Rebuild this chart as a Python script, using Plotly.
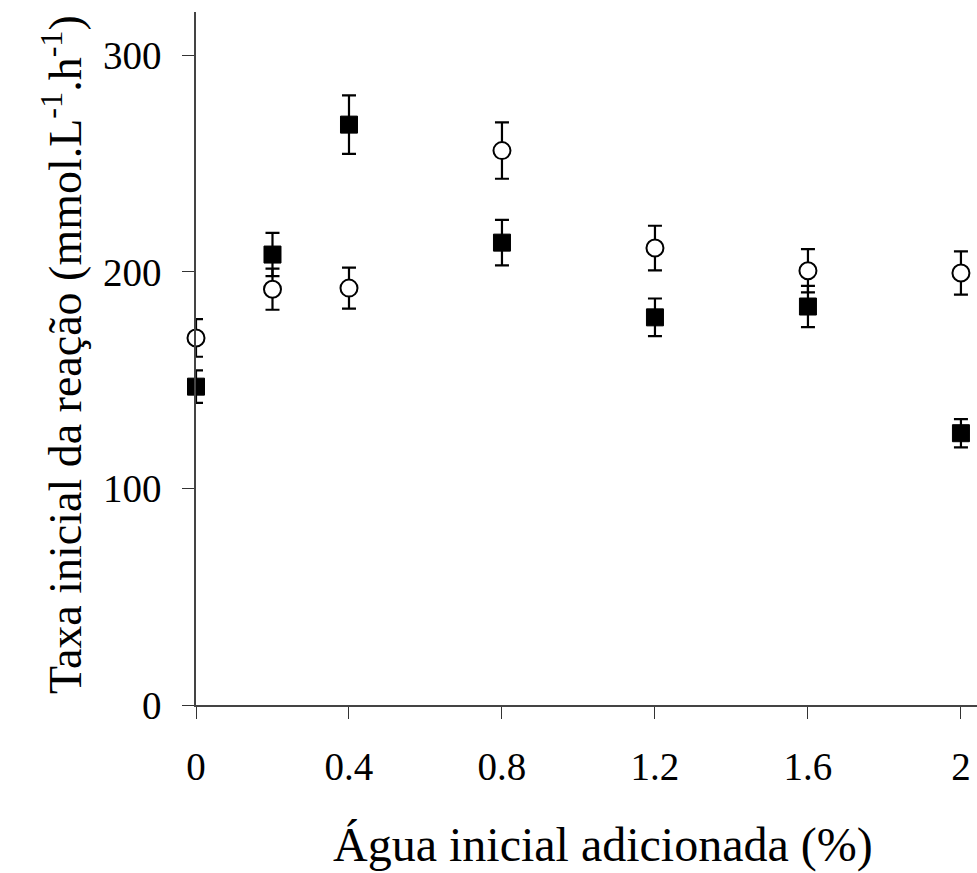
import plotly.graph_objects as go

x_vals = [0, 0.2, 0.4, 0.8, 1.2, 1.6, 2.0]
squares_y = [147, 208, 268, 213.5, 179, 184, 125.5]
squares_err = [7.5, 10, 13.5, 10.5, 8.7, 9.5, 6.5]
circles_y = [169.5, 192, 192.5, 256, 211, 200.5, 199.5]
circles_err = [8.7, 9.5, 9.5, 13, 10.3, 10, 10]

x_ticks = [0, 0.4, 0.8, 1.2, 1.6, 2]
x_tick_text = ["0", "0.4", "0.8", "1.2", "1.6", "2"]
y_ticks = [0, 100, 200, 300]

FONT = "Liberation Serif, Times New Roman, serif"

fig = go.Figure()
fig.add_trace(go.Scatter(
    x=x_vals, y=squares_y, mode="markers",
    marker=dict(symbol="square", size=17, color="black", line=dict(color="black", width=1)),
    error_y=dict(type="data", array=squares_err, visible=True, color="black", thickness=2.2, width=7),
    cliponaxis=False, showlegend=False,
))
fig.add_trace(go.Scatter(
    x=x_vals, y=circles_y, mode="markers",
    marker=dict(symbol="circle", size=17, color="white", line=dict(color="black", width=2)),
    error_y=dict(type="data", array=circles_err, visible=True, color="black", thickness=2.2, width=7),
    cliponaxis=False, showlegend=False,
))

fig.update_layout(
    width=977, height=873,
    margin=dict(l=196, r=0, t=12, b=168),
    plot_bgcolor="white", paper_bgcolor="white",
    font=dict(family=FONT, size=39, color="black"),
    xaxis=dict(
        range=[0, 2.042], tickmode="array", tickvals=x_ticks, ticktext=x_tick_text,
        showgrid=False, zeroline=False, showline=True, linecolor="#444", linewidth=1.5,
        ticks="outside", ticklen=12, tickwidth=1, tickcolor="#333",
        tickfont=dict(family=FONT, size=39, color="black"),
        ticklabelstandoff=14,
    ),
    yaxis=dict(
        range=[0, 320], tickmode="array", tickvals=y_ticks,
        showgrid=False, zeroline=False, showline=True, linecolor="#444", linewidth=1.5,
        ticks="outside", ticklen=12, tickwidth=1, tickcolor="#333",
        tickfont=dict(family=FONT, size=39, color="black"),
        ticklabelstandoff=13,
    ),
    annotations=[
        dict(text="Água inicial adicionada (%)", xref="paper", yref="paper",
             x=(603 - 196) / 781, y=-(845 - 705) / 693, xanchor="center", yanchor="middle",
             showarrow=False, font=dict(family=FONT, size=48, color="black")),
        dict(text="Taxa inicial da reação (mmol.L<sup>-1</sup>.h<sup>-1</sup>)", xref="paper", yref="paper",
             x=-(196 - 62) / 781, y=(705 - 355) / 693, xanchor="center", yanchor="middle",
             textangle=-90, showarrow=False, font=dict(family=FONT, size=46, color="black")),
    ],
)

fig.write_html("out.html")
